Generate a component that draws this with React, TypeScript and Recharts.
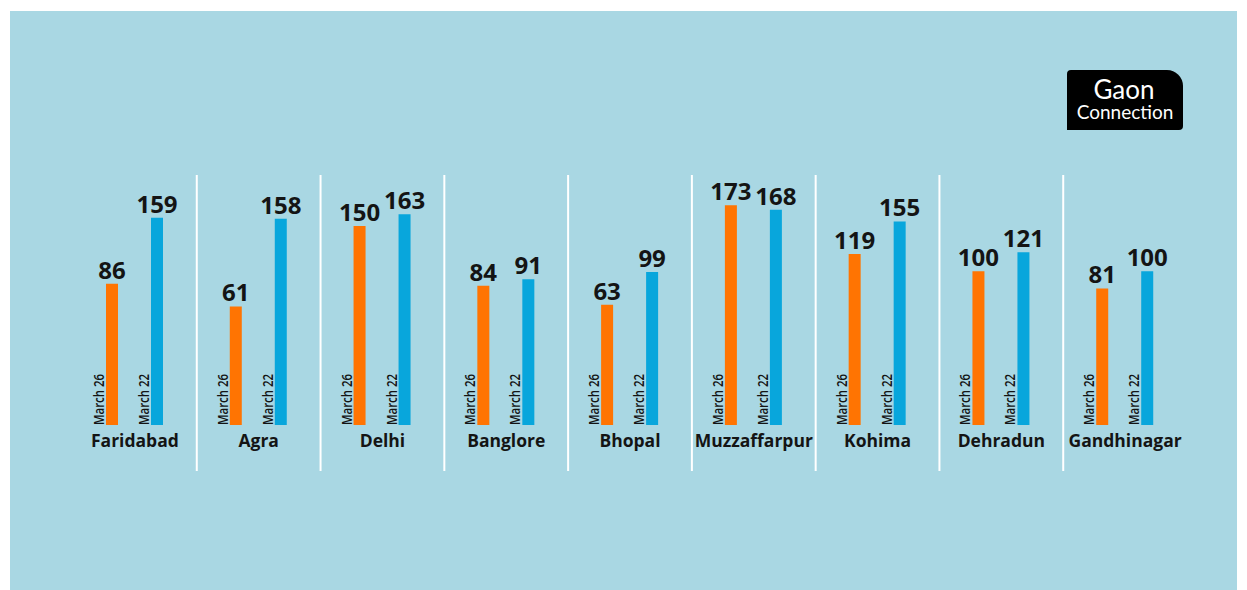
import React from 'react';
import { BarChart, Bar, XAxis, YAxis, LabelList } from 'recharts';

const cities = ['Faridabad', 'Agra', 'Delhi', 'Banglore', 'Bhopal', 'Muzzaffarpur', 'Kohima', 'Dehradun', 'Gandhinagar'];
const march26 = [86, 61, 150, 84, 63, 173, 119, 100, 81];
const march22 = [159, 158, 163, 91, 99, 168, 155, 121, 100];
const seriesNames = ['March 26', 'March 22'];

const data = cities.map((city, i) => ({ city, march26: march26[i], march22: march22[i] }));

// the infographic bars are not drawn to scale from zero, so they grow from this floor
const BAR_FLOOR = -70;
const Y_TOP = 245;

const W = 1247;
const H = 590;
const X_AXIS_H = 30;
const MARGIN = { top: 140, right: 60, bottom: 135, left: 73 };
const HALF_BAND = (W - MARGIN.left - MARGIN.right) / cities.length / 2;

const ORANGE = '#FF7402';
const BLUE = '#08A6DC';
const INK = '#141414';

const renderCityTick = ({ x, y, payload, index }: any) => (
  <g>
    {index > 0 && (
      <line x1={x - HALF_BAND} x2={x - HALF_BAND} y1={y - 250} y2={y + 46} stroke="#fff" strokeWidth={2} />
    )}
    <text x={x} y={y + 22} textAnchor="middle" fontFamily="'Open Sans', sans-serif" fontWeight={700} fontSize={17.5} fill={INK}>
      {payload.value}
    </text>
  </g>
);

const valueLabel = ({ x, y, width, value }: any) => (
  <text x={x + width / 2} y={y - 5} textAnchor="middle" fontFamily="'Open Sans', sans-serif" fontWeight={700} fontSize={24} fill={INK}>
    {value}
  </text>
);

const makeDateLabel = (name: string) => ({ x, y, height }: any) => {
  const bx = x - 2;
  const by = y + height;
  return (
    <text
      x={bx}
      y={by}
      transform={`rotate(-90, ${bx}, ${by})`}
      fontFamily="'Open Sans', sans-serif"
      fontWeight={600}
      fontSize={15}
      textLength={51}
      lengthAdjust="spacingAndGlyphs"
      fill={INK}
    >
      {name}
    </text>
  );
};

function Logo() {
  return (
    <div
      style={{
        position: 'absolute',
        left: 1067,
        top: 70,
        width: 116,
        height: 60,
        background: '#000',
        borderRadius: '4px 16px 4px 0',
      }}
    >
      <svg width={116} height={60} style={{ display: 'block' }}>
        <text x={57} y={29} textAnchor="middle" fontFamily="Lato, sans-serif" fontSize={26} fill="#fff">
          Gaon
        </text>
        <text x={58} y={49} textAnchor="middle" fontFamily="Lato, sans-serif" fontSize={19} fill="#fff">
          Connect<tspan fill="#E31B23">i</tspan>on
        </text>
      </svg>
    </div>
  );
}

export default function App() {
  return (
    <div style={{ position: 'absolute', left: 0, top: 0, width: W, height: H, background: '#fff', overflow: 'hidden' }}>
      <div style={{ position: 'absolute', left: 10, top: 11, width: 1227, height: 579, background: '#A9D7E3' }} />
      <div style={{ position: 'absolute', left: 0, top: 0 }}>
        <BarChart width={W} height={H} data={data} margin={MARGIN} barSize={12} barGap={33}>
          <XAxis
            dataKey="city"
            axisLine={false}
            tickLine={false}
            tickSize={0}
            tickMargin={0}
            height={X_AXIS_H}
            interval={0}
            tick={renderCityTick}
          />
          <YAxis hide type="number" domain={[BAR_FLOOR, Y_TOP]} allowDataOverflow />
          <Bar dataKey={(d: any) => [BAR_FLOOR, d.march26]} name={seriesNames[0]} fill={ORANGE} isAnimationActive={false}>
            <LabelList dataKey="march26" content={valueLabel} />
            <LabelList dataKey="march26" content={makeDateLabel(seriesNames[0])} />
          </Bar>
          <Bar dataKey={(d: any) => [BAR_FLOOR, d.march22]} name={seriesNames[1]} fill={BLUE} isAnimationActive={false}>
            <LabelList dataKey="march22" content={valueLabel} />
            <LabelList dataKey="march22" content={makeDateLabel(seriesNames[1])} />
          </Bar>
        </BarChart>
      </div>
      <Logo />
    </div>
  );
}
